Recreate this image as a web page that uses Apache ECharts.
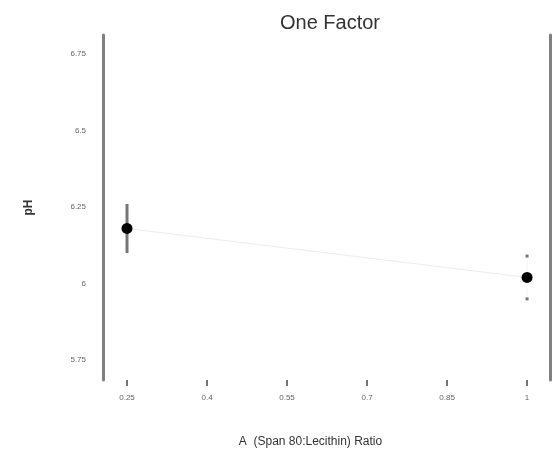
<!DOCTYPE html>
<html>
<head>
<meta charset="utf-8">
<script src="https://cdn.jsdelivr.net/npm/echarts@6/dist/echarts.min.js"></script>
<style>
html,body{margin:0;padding:0;background:#fff;}
#chart{width:555px;height:453px;}
</style>
</head>
<body>
<div id="chart"></div>
<script>
// Factor levels (A: Span 80:Lecithin ratio) and predicted pH with LSD bar ends
const xTicks = [0.25, 0.4, 0.55, 0.7, 0.85, 1];
const yTicks = [5.75, 6, 6.25, 6.5, 6.75];
const designX = [0.25, 1];
const predicted = [6.18, 6.02];
const barLow = [6.10, 5.95];
const barHigh = [6.26, 6.09];

const chart = echarts.init(document.getElementById('chart'));

const points = designX.map((x, i) => [x, predicted[i]]);
const bars = designX.map((x, i) => [x, barLow[i], barHigh[i], i]);

chart.setOption({
  animation: false,
  backgroundColor: '#fff',
  title: {
    text: 'One Factor', left: 325, top: 8, textAlign: 'center',
    textStyle: {fontFamily: 'Liberation Sans', fontSize: 20, fontWeight: 'normal', color: '#333'}
  },
  grid: {left: 103, right: 5, top: 35, bottom: 73},
  xAxis: {
    type: 'value', min: 0.205, max: 1.043,
    name: 'A  (Span 80:Lecithin) Ratio', nameLocation: 'middle', nameGap: 56,
    nameTextStyle: {fontFamily: 'Liberation Sans', fontSize: 12, color: '#333', padding: [0, 32, 0, 0]},
    axisLine: {show: false},
    axisTick: {show: true, customValues: xTicks, length: 6, inside: false, lineStyle: {color: '#777', width: 2}},
    axisLabel: {customValues: xTicks, margin: 14, fontSize: 8, color: '#666', fontFamily: 'Liberation Sans'},
    splitLine: {show: false}
  },
  yAxis: [{
    type: 'value', min: 5.685, max: 6.812,
    name: 'pH', nameLocation: 'middle', nameGap: 68, nameRotate: 90,
    nameTextStyle: {fontFamily: 'Liberation Sans', fontSize: 12, fontWeight: 'bold', color: '#333'},
    axisLine: {show: true, lineStyle: {color: '#808080', width: 3}},
    axisTick: {show: false},
    axisLabel: {customValues: yTicks, margin: 17, fontSize: 8, color: '#666', fontFamily: 'Liberation Sans'},
    splitLine: {show: false}
  }, {
    type: 'value', min: 5.685, max: 6.812, position: 'right',
    axisLine: {show: true, onZero: false, lineStyle: {color: '#808080', width: 3}},
    axisTick: {show: false}, axisLabel: {show: false}, splitLine: {show: false}
  }],
  series: [{
    // fitted effect line between the two factor levels
    type: 'line', data: points, symbol: 'none',
    lineStyle: {color: '#ececec', width: 1}, z: 1
  }, {
    // LSD bars: solid at the low level, end caps only at the high level
    type: 'custom', data: bars, z: 2,
    renderItem: function (params, api) {
      const x = api.value(0);
      const lo = api.coord([x, api.value(1)]);
      const hi = api.coord([x, api.value(2)]);
      if (api.value(3) === 0) {
        return {type: 'line', shape: {x1: lo[0], y1: lo[1], x2: hi[0], y2: hi[1]},
                style: {stroke: '#777', lineWidth: 3}};
      }
      return {type: 'group', children: [
        {type: 'line', shape: {x1: lo[0], y1: lo[1], x2: hi[0], y2: hi[1]}, style: {stroke: '#f4f4f4', lineWidth: 1}},
        {type: 'rect', shape: {x: lo[0] - 1.5, y: lo[1] - 1.5, width: 3, height: 3}, style: {fill: '#777'}},
        {type: 'rect', shape: {x: hi[0] - 1.5, y: hi[1] - 1.5, width: 3, height: 3}, style: {fill: '#777'}}
      ]};
    }
  }, {
    type: 'scatter', data: points, symbol: 'circle', symbolSize: 11, z: 3,
    itemStyle: {color: '#000', opacity: 1}
  }]
});
</script>
</body>
</html>
